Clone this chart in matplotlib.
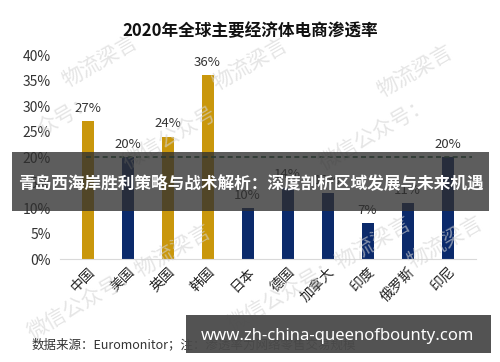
import numpy as np
import matplotlib
matplotlib.use("Agg")
import matplotlib.pyplot as plt
from matplotlib.patches import Rectangle

plt.rcParams['font.family'] = ['Noto Sans CJK SC', 'DejaVu Sans']

# 数据
countries = ['中国', '美国', '英国', '韩国', '日本', '德国', '加拿大', '印度', '俄罗斯', '印尼']
rates = [27, 20, 24, 36, 10, 14, 13, 7, 11, 20]
highlight = [True, False, True, True, False, False, False, False, False, False]
ref_level = 20
yticks = [0, 5, 10, 15, 20, 25, 30, 35, 40]

gold = '#C9970C'
navy = '#0B2A6B'

fig = plt.figure(figsize=(5, 3.62), dpi=100)
ax = fig.add_axes([0.119, 0.2845, 0.832, 0.5635])

x = np.arange(len(countries))
colors = [gold if h else navy for h in highlight]
bars = ax.bar(x, rates, width=0.3, color=colors, zorder=2)

for xi, v in zip(x, rates):
    ax.text(xi, v + 1.2, f'{v}%', ha='center', va='bottom', fontsize=9.5, color='#333333')

# 20% 参考线
ax.hlines(ref_level, x[0] - 0.05, x[-1] + 0.6, colors='#1E5B3A', linestyles=(0, (3, 2)),
          linewidth=1.2, zorder=3)

ax.set_xlim(-0.7, 9.7)
ax.set_ylim(0, 40)
ax.set_yticks(yticks)
ax.set_yticklabels([f'{t}%' for t in yticks], fontsize=10, color='#333333')
ax.set_xticks(x)
ax.set_xticklabels(countries, rotation=45, ha='right', rotation_mode='anchor',
                   fontsize=10, color='#222222')
for s in ['top', 'right', 'left']:
    ax.spines[s].set_visible(False)
ax.spines['bottom'].set_color('#d9d9d9')
ax.tick_params(axis='both', length=0, pad=4)
ax.tick_params(axis='y', pad=6)

fig.text(0.5, 0.913, '2020年全球主要经济体电商渗透率', ha='center', va='center',
         fontsize=12, fontweight='bold', color='#111111')

# 水印
wm = dict(color='#d4d4d4', alpha=0.6, rotation=30, ha='center', va='center', zorder=0)
fig.text(0.20, 0.83, '物流梁言', fontsize=15, **wm)
fig.text(0.50, 0.82, '物流梁言', fontsize=15, **wm)
fig.text(0.83, 0.80, '物流梁言', fontsize=15, **wm)
fig.text(0.13, 0.68, '众号：', fontsize=15, **wm)
fig.text(0.34, 0.62, '微信公众号', fontsize=15, **wm)
fig.text(0.75, 0.63, '微信公众号：', fontsize=15, **wm)
fig.text(0.24, 0.22, '微信公众号：物流梁言', fontsize=15, **wm)
fig.text(0.64, 0.24, '微信公众号：物流梁言', fontsize=15, **wm)
fig.text(0.89, 0.33, '物流梁言', fontsize=15, **wm)

fig.text(0.064, 0.047, '数据来源：Euromonitor；注：渗透率为网络零售交易规模', ha='left', va='center',
         fontsize=9, color='#333333')

# 覆盖横幅
fig.patches.append(Rectangle((0.024, 1 - 211 / 362), 0.954, 59 / 362, transform=fig.transFigure,
                             facecolor='#2f2f2f', alpha=0.78, edgecolor='none', zorder=5))
fig.text(0.501, 1 - 183 / 362, '青岛西海岸胜利策略与战术解析：深度剖析区域发展与未来机遇',
         ha='center', va='center', fontsize=12, fontweight='bold', color='white', zorder=6)

fig.patches.append(Rectangle((0.372, 1 - 353 / 362), 0.61, 38 / 362, transform=fig.transFigure,
                             facecolor='#4a4a4a', alpha=0.95, edgecolor='none', zorder=5))
fig.text(0.675, 1 - 336 / 362, 'www.zh-china-queenofbounty.com', ha='center', va='center',
         fontsize=12, fontweight='bold', color='white', family=['Noto Sans', 'DejaVu Sans'],
         zorder=6)

fig.savefig('out.png', dpi=100)
